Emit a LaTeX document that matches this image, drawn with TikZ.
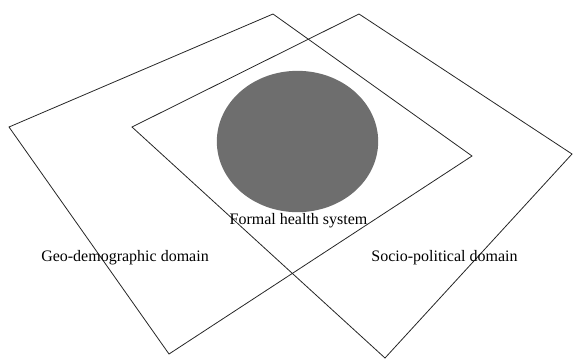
\documentclass[tikz,border=0pt]{standalone}
\usepackage{fontspec}
\setmainfont{Liberation Serif}
\usetikzlibrary{shapes.geometric}
\tikzset{x=0.75pt, y=-0.75pt}
\tikzset{domainquad/.style={draw=black!85, line width=0.6pt},
 lbl/.style={font=\fontsize{12}{14}\selectfont, inner sep=0pt}}

\begin{document}
\begin{tikzpicture}
\useasboundingbox (0,0) rectangle (573,361);
% the two domains
\draw[domainquad] (273,14) -- (9,127) -- (169,354) -- (472,156) -- cycle;
\draw[domainquad] (359,14) -- (132,127) -- (385,358) -- (572,154) -- cycle;
% the health system on top
\node (fhs) [ellipse, fill=black!57, inner sep=0pt,
 minimum width=121pt, minimum height=106pt] at (297.5,141.5) {};
\node[lbl] (fhslbl) at (298.5,221) {Formal health system};
\node[lbl] (geo) at (125,258) {Geo-demographic domain};
\node[lbl] (soc) at (444.5,258) {Socio-political domain};
\end{tikzpicture}
\end{document}
